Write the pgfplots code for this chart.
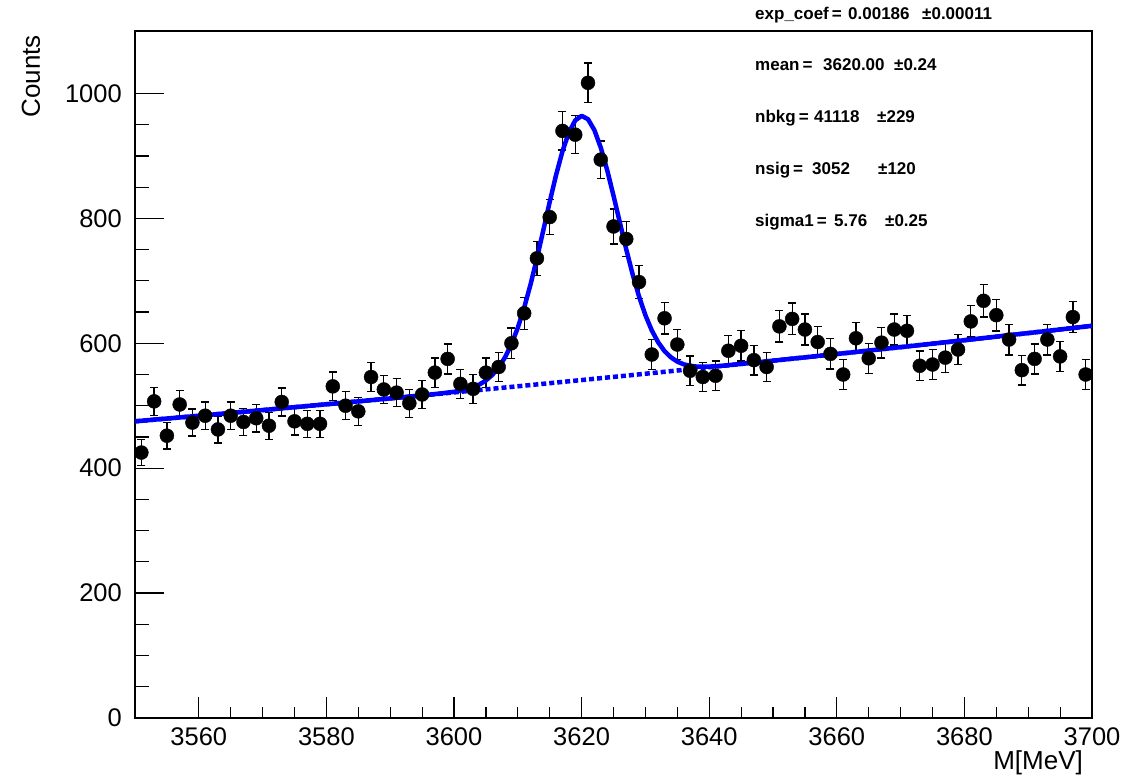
\documentclass[border=0pt]{standalone}
\usepackage{fontspec}
\setmainfont{Liberation Sans}
\usepackage{pgfplots}
\pgfplotsset{compat=1.18}
\usepackage{pgfplotstable}

\pgfplotstableread{
x y e
3551 425 20.6
3553 507 22.5
3555 452 21.3
3557 502 22.4
3559 473 21.7
3561 484 22.0
3563 462 21.5
3565 484 22.0
3567 474 21.8
3569 480 21.9
3571 468 21.6
3573 506 22.5
3575 475 21.8
3577 471 21.7
3579 471 21.7
3581 531 23.0
3583 500 22.4
3585 491 22.2
3587 546 23.4
3589 526 22.9
3591 521 22.8
3593 504 22.4
3595 518 22.8
3597 553 23.5
3599 575 24.0
3601 535 23.1
3603 527 23.0
3605 553 23.5
3607 562 23.7
3609 600 24.5
3611 648 25.5
3613 736 27.1
3615 802 28.3
3617 940 30.7
3619 934 30.6
3621 1017 31.9
3623 894 29.9
3625 787 28.1
3627 767 27.7
3629 698 26.4
3631 582 24.1
3633 640 25.3
3635 598 24.5
3637 556 23.6
3639 546 23.4
3641 548 23.4
3643 588 24.2
3645 596 24.4
3647 573 23.9
3649 562 23.7
3651 627 25.0
3653 639 25.3
3655 622 24.9
3657 602 24.5
3659 583 24.1
3661 550 23.5
3663 608 24.7
3665 576 24.0
3667 601 24.5
3669 622 24.9
3671 620 24.9
3673 564 23.7
3675 566 23.8
3677 577 24.0
3679 590 24.3
3681 635 25.2
3683 668 25.8
3685 645 25.4
3687 606 24.6
3689 557 23.6
3691 575 24.0
3693 606 24.6
3695 579 24.1
3697 642 25.3
3699 550 23.5
}\datatable

\pgfplotstableread{
x y
3550 475.0
3560 483.9
3570 493.0
3580 502.3
3590 511.7
3596 517.6
3598 519.7
3600 522.3
3601 524.1
3602 526.5
3603 529.6
3604 534.1
3605 540.4
3606 549.3
3607 561.3
3608 577.5
3609 598.4
3610 624.8
3611 656.9
3612 694.3
3613 736.2
3614 781.0
3615 826.3
3616 869.5
3617 907.4
3618 937.4
3619 956.8
3620 964.1
3621 958.8
3622 941.4
3623 913.4
3624 877.5
3625 836.4
3626 793.1
3627 750.3
3628 710.4
3629 675.0
3630 644.9
3631 620.6
3632 601.6
3633 587.4
3634 577.5
3635 570.6
3636 566.3
3637 563.9
3638 562.7
3639 562.4
3640 562.6
3642 564.0
3644 565.9
3650 572.1
3660 582.8
3670 593.8
3680 604.9
3690 616.3
3700 627.9
}\totaltable

\pgfplotstableread{
x y
3550 475.0
3560 483.9
3570 493.0
3580 502.3
3590 511.7
3600 521.3
3610 531.1
3620 541.1
3630 551.2
3640 561.6
3650 572.1
3660 582.8
3670 593.8
3680 604.9
3690 616.3
3700 627.9
}\bkgtable

\begin{document}
\begin{tikzpicture}
\begin{axis}[
  name=ax,
  scale only axis,
  width=957pt, height=687pt,
  xmin=3550, xmax=3700, ymin=0, ymax=1100,
  axis line style={line width=1.5pt, black},
  tick align=inside,
  xtick pos=bottom, ytick pos=left,
  xtick={3560,3580,...,3700},
  ytick={0,200,...,1000},
  minor x tick num=3, minor y tick num=3,
  tick style={line width=1.2pt, black},
  major x tick style={/pgfplots/major tick length=21pt},
  minor x tick style={/pgfplots/minor tick length=11pt},
  major y tick style={/pgfplots/major tick length=29pt},
  minor y tick style={/pgfplots/minor tick length=14pt},
  /pgf/number format/assume math mode=true,
  /pgf/number format/1000 sep={},
  ticklabel style={font=\fontsize{25.5}{30}\selectfont},
  xticklabel style={anchor=north, inner sep=0pt, yshift=-9pt},
  yticklabel style={anchor=east, inner sep=0pt, xshift=-13pt},
]
\addplot[only marks, mark=*, mark size=7pt, mark options={fill=black, draw=black},
  error bars/.cd, y dir=both, y explicit,
  error bar style={line width=1.3pt, black},
  error mark options={rotate=90, mark size=4pt, line width=1.3pt, black}]
  table[x=x, y=y, y error=e] {\datatable};
\addplot[blue, line width=4.5pt, dash pattern=on 5pt off 3pt] table[x=x, y=y] {\bkgtable};
\addplot[blue, line width=4.5pt, line join=round] table[x=x, y=y] {\totaltable};
\end{axis}

\begin{scope}[every node/.style={inner sep=0pt, anchor=base west, font=\bfseries\fontsize{17}{20}\selectfont}]
\node at ([shift={(620pt,11pt)}]ax.north west) {exp\_coef\hspace{3pt}=};
\node at ([shift={(713pt,11pt)}]ax.north west) {0.00186};
\node at ([shift={(787pt,11pt)}]ax.north west) {±0.00011};
\node at ([shift={(620pt,-40pt)}]ax.north west) {mean\hspace{3pt}=};
\node at ([shift={(688pt,-40pt)}]ax.north west) {3620.00};
\node at ([shift={(759pt,-40pt)}]ax.north west) {±0.24};
\node at ([shift={(620pt,-91.7pt)}]ax.north west) {nbkg\hspace{3pt}=};
\node at ([shift={(679pt,-91.7pt)}]ax.north west) {41118};
\node at ([shift={(742pt,-91.7pt)}]ax.north west) {±229};
\node at ([shift={(620pt,-144pt)}]ax.north west) {nsig\hspace{3pt}=};
\node at ([shift={(677pt,-144pt)}]ax.north west) {3052};
\node at ([shift={(743pt,-144pt)}]ax.north west) {±120};
\node at ([shift={(620pt,-195.7pt)}]ax.north west) {sigma1\hspace{3pt}=};
\node at ([shift={(699pt,-195.7pt)}]ax.north west) {5.76};
\node at ([shift={(750pt,-195.7pt)}]ax.north west) {±0.25};
\end{scope}

\node[rotate=90, anchor=east, inner sep=0pt, font=\fontsize{26}{30}\selectfont] at ([shift={(-104pt,-4pt)}]ax.north west) {Counts};
\node[anchor=east, inner sep=0pt, font=\fontsize{26}{30}\selectfont] at ([shift={(-9pt,-45pt)}]ax.south east) {M[MeV]};

\pgfresetboundingbox
\path[use as bounding box] ([shift={(-135pt,-60pt)}]ax.south west) rectangle ([shift={(52pt,31pt)}]ax.north east);
\end{tikzpicture}
\end{document}
